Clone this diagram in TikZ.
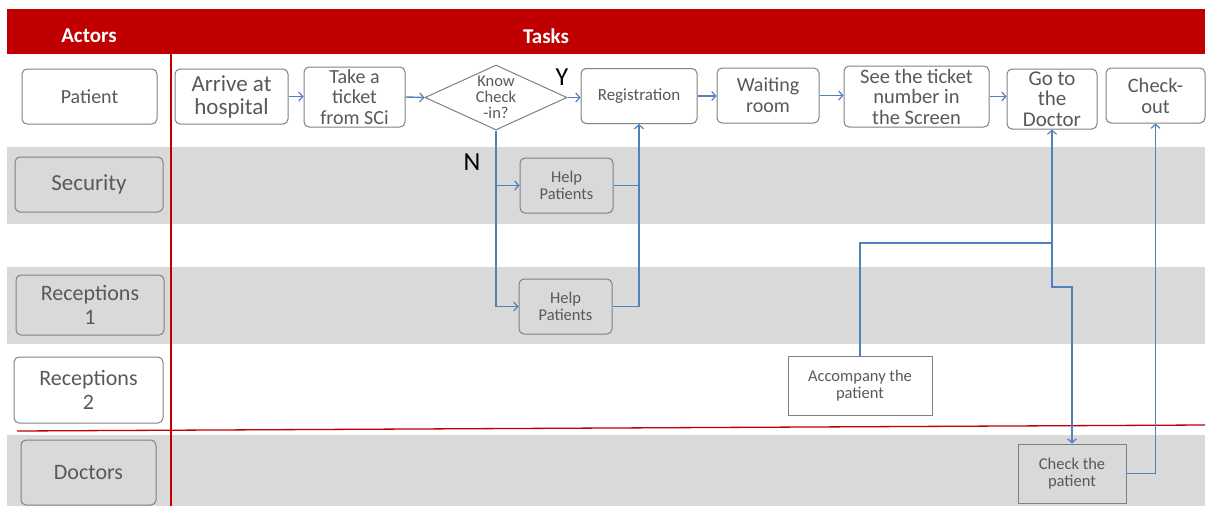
\documentclass[tikz,border=0pt]{standalone}
\usepackage{fontspec}
\setmainfont{Carlito}
\usetikzlibrary{arrows.meta,shapes.geometric}
\definecolor{hdrRed}{HTML}{C00000}
\definecolor{laneGray}{HTML}{D9D9D9}
\definecolor{boxGray}{HTML}{808080}
\definecolor{txtGray}{HTML}{595959}
\definecolor{flowBlue}{HTML}{4F81BD}
\newcommand{\fsz}[2]{\fontsize{#1}{#2}\selectfont}
\begin{document}
\begin{tikzpicture}[x=1pt,y=-1pt,
  lane/.style={fill=laneGray,draw=none},
  boxbase/.style={draw=boxGray,line width=1pt,text=txtGray,align=center,inner sep=0pt},
  actor/.style={boxbase,rounded corners=5pt},
  task/.style={boxbase,rounded corners=5pt,fill=white},
  sqbox/.style={boxbase},
  flow/.style={draw=flowBlue,line width=1.4pt,-{Straight Barb[length=4pt,width=9pt,line width=1.2pt]}},
  plainflow/.style={draw=flowBlue,line width=1.4pt},
  redline/.style={draw=hdrRed,line width=1.3pt},
  yn/.style={text=black,font=\fsz{26}{26},inner sep=0pt}]
\useasboundingbox (0,0) rectangle (1208,506);
% lanes
\fill[lane] (7,147) rectangle (1205,224);
\fill[lane] (7,267) rectangle (1205,344);
\fill[lane] (7,435) rectangle (1205,506);
% header
\fill[hdrRed] (7,9) rectangle (1205,54);
\node[text=white,font=\bfseries\fsz{21}{21}] (hActors) at (89,36) {Actors};
\node[text=white,font=\bfseries\fsz{21}{21}] (hTasks) at (546,36) {Tasks};
% red lines
\draw[redline] (171,54) -- (171,506);
\draw[redline] (17,431) -- (1205,425);
% actors
\node[actor,fill=white,minimum width=135pt,minimum height=55pt,font=\fsz{20}{22}] (patient) at (89.5,96.5) {Patient};
\node[actor,fill=laneGray,minimum width=148pt,minimum height=55pt,font=\fsz{23}{24}] (security) at (89,184.5) {Security};
\node[actor,fill=laneGray,minimum width=148pt,minimum height=60pt,font=\fsz{22}{24}] (rec1) at (90,305) {Receptions\\1};
\node[actor,fill=white,minimum width=149pt,minimum height=66pt,font=\fsz{22}{24}] (rec2) at (88.5,390) {Receptions\\2};
\node[actor,fill=laneGray,minimum width=135pt,minimum height=65pt,font=\fsz{22}{24}] (doctors) at (88.5,472.5) {Doctors};
% patient row tasks
\node[task,minimum width=113pt,minimum height=55pt,font=\fsz{23}{23}] (arrive) at (231.5,96.5) {Arrive at\\hospital};
\node[task,minimum width=101pt,minimum height=60pt,font=\fsz{20}{20.5}] (ticket) at (354.5,97) {Take a\\ticket\\from SCi};
\node[diamond,draw=boxGray,line width=1pt,fill=white,inner sep=0pt,minimum width=142pt,minimum height=65pt] (dia) at (496,97.5) {};
\node[text=txtGray,align=center,inner sep=0pt,font=\fsz{16.5}{16}] (diatext) at (dia.center) {Know\\Check\\-in?};
\node[task,minimum width=116pt,minimum height=55pt,font=\fsz{17}{18}] (reg) at (639,96) {Registration};
\node[task,minimum width=102pt,minimum height=55pt,font=\fsz{20}{21}] (waiting) at (768,95.5) {Waiting\\room};
\node[task,minimum width=145pt,minimum height=61pt,font=\fsz{20.5}{20.5}] (see) at (916.5,96.5) {See the ticket\\number in\\the Screen};
\node[task,minimum width=90pt,minimum height=60pt,font=\fsz{21}{20.5}] (godoc) at (1052,99) {Go to\\the\\Doctor};
\node[task,minimum width=99pt,minimum height=55pt,font=\fsz{20.5}{21}] (checkout) at (1155.5,95.5) {Check-\\out};
% other tasks
\node[actor,fill=laneGray,minimum width=93pt,minimum height=55pt,font=\fsz{16.5}{17}] (help1) at (566.5,185.5) {Help\\Patients};
\node[actor,fill=laneGray,minimum width=93pt,minimum height=55pt,font=\fsz{16.5}{17}] (help2) at (565.5,306.5) {Help\\Patients};
\node[sqbox,fill=white,minimum width=144pt,minimum height=59pt,font=\fsz{16.5}{17}] (accomp) at (860,385.5) {Accompany the\\patient};
\node[sqbox,fill=laneGray,minimum width=108pt,minimum height=59pt,font=\fsz{16.5}{17}] (checkpat) at (1072,473.5) {Check the\\patient};
% Y / N
\node[yn] (ylab) at (562,77) {Y};
\node[yn] (nlab) at (472,162) {N};
% connectors
\draw[flow] (arrive.east) -- (ticket.west |- arrive.east);
\draw[flow] (ticket.east) -- (dia.west);
\draw[flow] (dia.east) -- (reg.west |- dia.east);
\draw[flow] (reg.east) -- (waiting.west |- reg.east);
\draw[flow] (waiting.east) -- (see.west |- waiting.east);
\draw[flow] (see.east) -- (godoc.west |- see.east);
\draw[flow] (dia.south) |- (help2.west);
\draw[flow] (dia.south |- help1.west) -- (help1.west);
\draw[plainflow] (help1.east) -- (help1.east -| reg.south);
\draw[flow] (help2.east) -| (reg.south);
\coordinate (j1) at (1052,243);
\coordinate (j2) at (1052,287);
\draw[flow] (accomp.north) |- (j1) -- (godoc.south);
\draw[flow] (j1) -- (j2) -| (checkpat.north);
\draw[flow] (checkpat.east) -| (checkout.south);
\end{tikzpicture}
\end{document}
